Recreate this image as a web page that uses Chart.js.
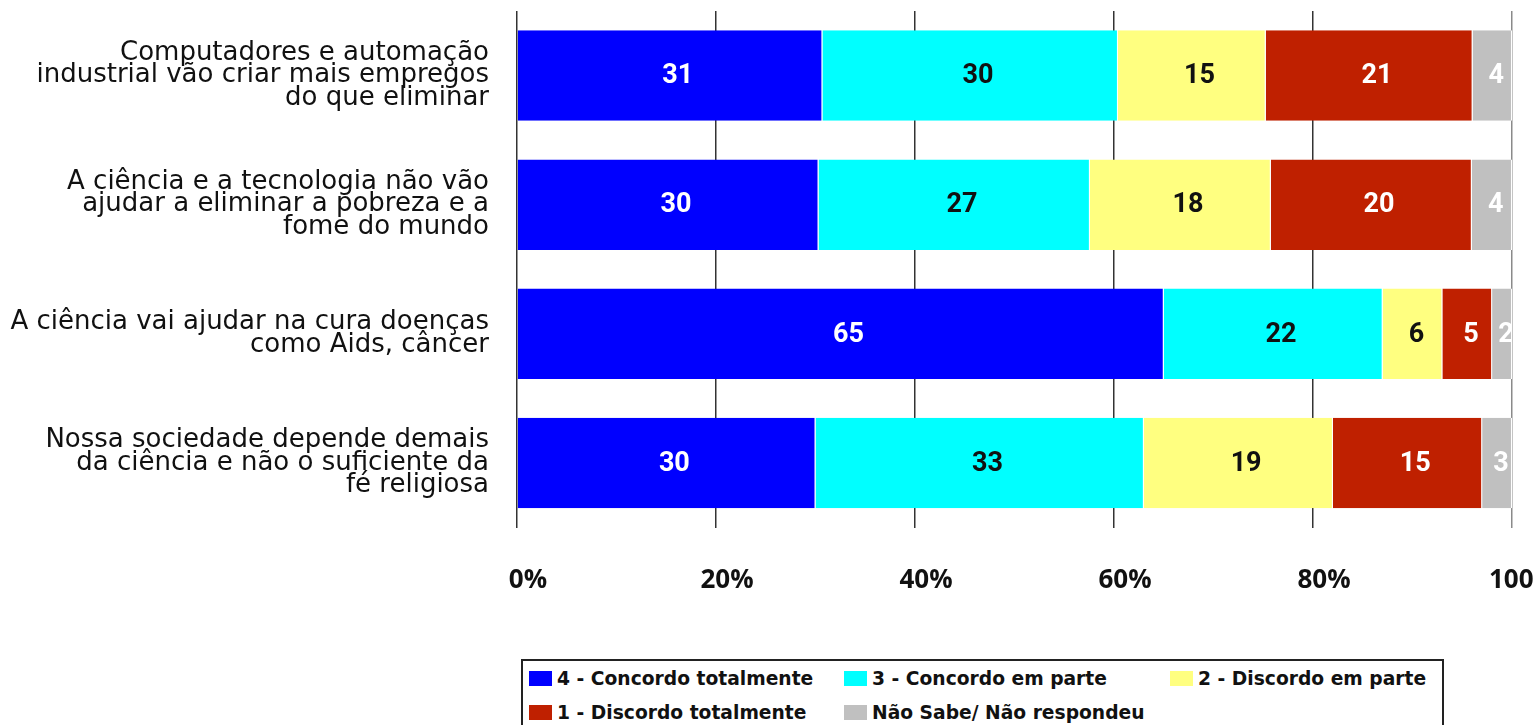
<!DOCTYPE html>
<html>
<head>
<meta charset="utf-8">
<title>Ciência e tecnologia</title>
<script src="https://cdn.jsdelivr.net/npm/chart.js@4"></script>
<style>
    body { margin: 0; background: #fff; overflow: hidden; }
    #chartBox { position: absolute; left: 0; top: 0; width: 1534px; height: 640px; }
    #legendBox {
        position: absolute; left: 521px; top: 659px; width: 923px; height: 80px;
        border: 2px solid #222; box-sizing: border-box; padding: 0 0 0 6px;
        display: grid; grid-template-columns: 315px 326px auto; grid-auto-rows: 34px;
        font-family: "DejaVu Sans", sans-serif; font-weight: bold; font-size: 18.7px; color: #111;
    }
    .legendItem { display: flex; align-items: center; white-space: nowrap; }
    .legendSwatch { width: 23px; height: 15px; margin-right: 5px; }
</style>
</head>
<body>
<div id="chartBox"><canvas id="surveyChart"></canvas></div>
<div id="legendBox"></div>

<script>
// Statements (one bar each)
const statements = [
    ["Computadores e automação", "industrial vão criar mais empregos", "do que eliminar"],
    ["A ciência e a tecnologia não vão", "ajudar a eliminar a pobreza e a", "fome do mundo"],
    ["A ciência vai ajudar na cura doenças", "como Aids, câncer"],
    ["Nossa sociedade depende demais", "da ciência e não o suficiente da", "fé religiosa"]
];

// Answer categories
const answerNames = [
    "4 - Concordo totalmente",
    "3 - Concordo em parte",
    "2 - Discordo em parte",
    "1 - Discordo totalmente",
    "Não Sabe/ Não respondeu"
];

// Values (%), one array per answer
const concordoTotal = [31, 30, 65, 30];
const concordoParte = [30, 27, 22, 33];
const discordoParte = [15, 18, 6, 19];
const discordoTotal = [21, 20, 5, 15];
const naoSabe = [4, 4, 2, 3];

const xTicks = [0, 20, 40, 60, 80, 100];

const answerColors = ['#0000ff', '#00ffff', '#ffff80', '#bf2000', '#c0c0c0'];
const labelColors = ['#ffffff', '#111111', '#111111', '#ffffff', '#ffffff'];

const allSeries = [concordoTotal, concordoParte, discordoParte, discordoTotal, naoSabe];

// Each bar is shown as 100% of its own total
const rowTotals = statements.map((s, i) => allSeries.reduce((sum, arr) => sum + arr[i], 0));

const datasets = allSeries.map((values, k) => ({
    label: answerNames[k],
    data: values.map((v, i) => v / rowTotals[i] * 100),
    rawValues: values,
    backgroundColor: answerColors[k],
    borderColor: '#ffffff',
    borderWidth: { left: 0, right: 1, top: 0, bottom: 0 },
    borderSkipped: false,
    barPercentage: 0.7,
    categoryPercentage: 1.0
}));

// Draw the numbers in the middle of each segment
const segmentLabels = {
    id: 'segmentLabels',
    afterDatasetsDraw(chart) {
        const ctx = chart.ctx;
        const area = chart.chartArea;
        ctx.save();
        ctx.beginPath();
        ctx.rect(area.left, area.top, area.right - area.left, area.bottom - area.top);
        ctx.clip();
        ctx.font = 'bold 27px Roboto';
        ctx.textAlign = 'center';
        ctx.textBaseline = 'middle';
        chart.data.datasets.forEach((ds, k) => {
            const meta = chart.getDatasetMeta(k);
            meta.data.forEach((bar, i) => {
                const p = bar.getCenterPoint();
                const text = String(ds.rawValues[i]);
                // the original labels sit a little right of centre
                const shift = ctx.measureText(text).width * 0.25;
                ctx.fillStyle = labelColors[k];
                ctx.fillText(text, p.x + shift, p.y + 1);
            });
        });
        ctx.restore();
    }
};

function buildLegend() {
    const box = document.getElementById('legendBox');
    answerNames.forEach((name, k) => {
        const item = document.createElement('div');
        item.className = 'legendItem';
        const sw = document.createElement('span');
        sw.className = 'legendSwatch';
        sw.style.background = answerColors[k];
        const txt = document.createElement('span');
        txt.textContent = name;
        item.appendChild(sw);
        item.appendChild(txt);
        box.appendChild(item);
    });
}

document.addEventListener("DOMContentLoaded", function () {
    buildLegend();

    const ctx = document.getElementById('surveyChart').getContext('2d');
    new Chart(ctx, {
        type: 'bar',
        data: { labels: statements, datasets: datasets },
        plugins: [segmentLabels],
        options: {
            indexAxis: 'y',
            responsive: true,
            maintainAspectRatio: false,
            animation: false,
            events: [],
            layout: { padding: { top: 11, right: 22, left: 0, bottom: 0 } },
            plugins: {
                legend: { display: false },
                tooltip: { enabled: false }
            },
            scales: {
                x: {
                    stacked: true,
                    min: 0,
                    max: 100,
                    afterBuildTicks: function (scale) {
                        scale.ticks = xTicks.map(v => ({ value: v }));
                    },
                    border: { display: false },
                    grid: {
                        drawTicks: false,
                        lineWidth: 1.5,
                        color: ctx => ctx.tick && ctx.tick.value === 100 ? '#8a8a8a' : '#333333'
                    },
                    ticks: {
                        padding: 37,
                        labelOffset: 11,
                        color: '#111',
                        font: { family: 'Open Sans', weight: 'bold', size: 26 },
                        callback: v => v + '%'
                    },
                    afterFit: function (scale) {
                        scale.height = 112.5;
                        scale.paddingLeft = 0;
                        scale.paddingRight = 0;
                    }
                },
                y: {
                    stacked: true,
                    border: { display: false },
                    grid: { display: false, drawTicks: false },
                    ticks: {
                        padding: 28,
                        color: '#111',
                        font: { family: 'DejaVu Sans', size: 26, lineHeight: 0.865 }
                    },
                    afterFit: function (scale) {
                        scale.width = 517;
                        scale.paddingTop = 0;
                        scale.paddingBottom = 0;
                    }
                }
            }
        }
    });
});
</script>
</body>
</html>
